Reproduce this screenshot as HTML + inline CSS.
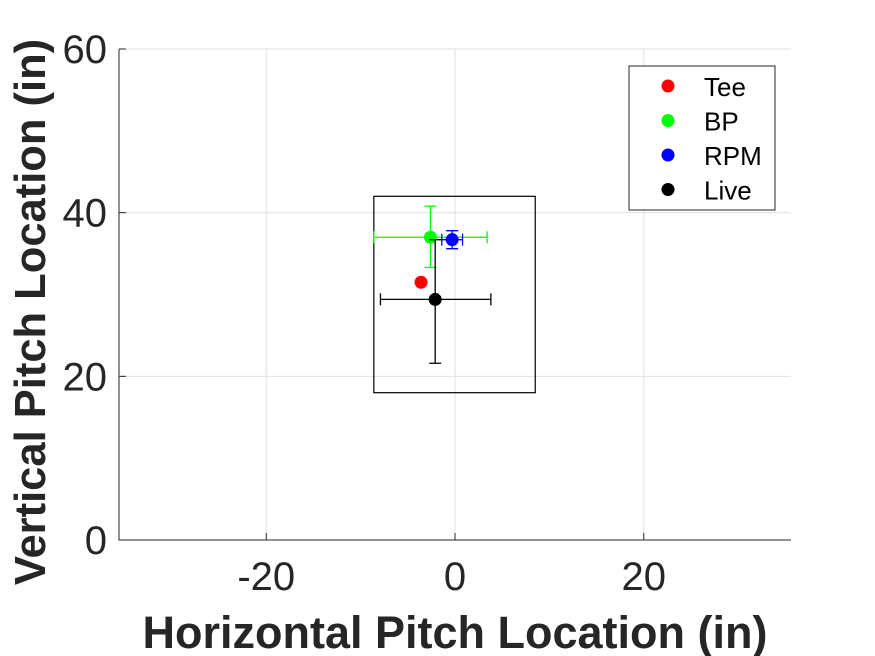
<!DOCTYPE html>
<html><head><meta charset="utf-8"><style>
body{margin:0;background:#fff;}
svg{display:block;font-family:"Liberation Sans",Arial,sans-serif;}
</style></head><body>
<svg id="chart" width="875" height="656" viewBox="0 0 875 656"></svg>
<script>
const seriesNames=["Tee","BP","RPM","Live"];
const seriesColors=["#ff0000","#00ff00","#0000ff","#000000"];
const xVals=[-3.6,-2.6,-0.3,-2.1];
const yVals=[31.5,37.0,36.7,29.4];
const xErrLo=[null,-8.6,-1.4,-7.9];
const xErrHi=[null,3.4,0.8,3.8];
const yErrLo=[null,33.3,35.6,21.6];
const yErrHi=[null,40.8,37.8,36.7];
const xTicks=[-20,0,20];
const yTicks=[0,20,40,60];
const zone=[-8.6,8.5,18.0,42.0];
const X0=119,X1=791,Y0=540,Y1=49;
const xmin=-35.6,xmax=35.6,ymin=0,ymax=60;
function sx(v){return X0+(v-xmin)/(xmax-xmin)*(X1-X0);}
function sy(v){return Y0-(v-ymin)/(ymax-ymin)*(Y0-Y1);}
const svg=document.getElementById('chart');
const NS='http://www.w3.org/2000/svg';
function el(t,a,p){const e=document.createElementNS(NS,t);for(const k in a)e.setAttribute(k,a[k]);(p||svg).appendChild(e);return e;}
xTicks.forEach(t=>{const g=el('line',{x1:sx(t),x2:sx(t),y1:Y1,y2:Y0,stroke:'#e0e0e0','stroke-width':1});

});
yTicks.forEach(t=>{const g=el('line',{x1:X0,x2:X1,y1:sy(t),y2:sy(t),stroke:'#e0e0e0','stroke-width':1});

});
const ax=el('path',{d:`M${X0},${Y1}V${Y0}H${X1}`,fill:'none',stroke:'#262626','stroke-width':1});


xTicks.forEach(t=>{el('line',{x1:sx(t),x2:sx(t),y1:Y0,y2:Y0-7,stroke:'#262626'});
const tx=el('text',{x:sx(t),y:Y0+50,'text-anchor':'middle','font-size':40,fill:'#262626'});tx.textContent=t;

});
yTicks.forEach(t=>{el('line',{x1:X0,x2:X0+7,y1:sy(t),y2:sy(t),stroke:'#262626'});
const tx=el('text',{x:X0-12,y:sy(t)+14,'text-anchor':'end','font-size':40,fill:'#262626'});tx.textContent=t;

});
const z=el('rect',{x:sx(zone[0]),y:sy(zone[3]),width:sx(zone[1])-sx(zone[0]),height:sy(zone[2])-sy(zone[3]),fill:'none',stroke:'#000','stroke-width':1.2});


[0,1,2,3].forEach(i=>{
 const g=el('g',{});
 
 
 const c=seriesColors[i],cx=sx(xVals[i]),cy=sy(yVals[i]);
 if(xErrLo[i]!==null){
  const a=sx(xErrLo[i]),b=sx(xErrHi[i]),t=sy(yErrHi[i]),u=sy(yErrLo[i]);
  el('path',{d:`M${a},${cy}H${b}M${a},${cy-6}V${cy+6}M${b},${cy-6}V${cy+6}M${cx},${t}V${u}M${cx-6},${t}H${cx+6}M${cx-6},${u}H${cx+6}`,stroke:c,'stroke-width':1.3,fill:'none'},g);
 }
 el('circle',{cx:cx,cy:cy,r:6.5,fill:c},g);
});
const lg=el('g',{});


el('rect',{x:629,y:66,width:146,height:144,fill:'#fff',stroke:'#262626','stroke-width':1},lg);
seriesNames.forEach((n,i)=>{
 const e=el('g',{},lg);
 
 
 const y=86+i*34.5;
 el('circle',{cx:668,cy:y,r:6.5,fill:seriesColors[i]},e);
 const t=el('text',{x:704,y:y+10,'font-size':26,fill:'#000'},e);t.textContent=n;
});
const xt=el('text',{x:455,y:648,'text-anchor':'middle','font-size':45,'font-weight':'bold',fill:'#262626'});
xt.textContent='Horizontal Pitch Location (in)';


const yt=el('text',{x:0,y:0,'text-anchor':'middle','font-size':43.5,'font-weight':'bold',fill:'#262626',transform:'translate(45,312) rotate(-90)'});
yt.textContent='Vertical Pitch Location (in)';


</script>
</body></html>
